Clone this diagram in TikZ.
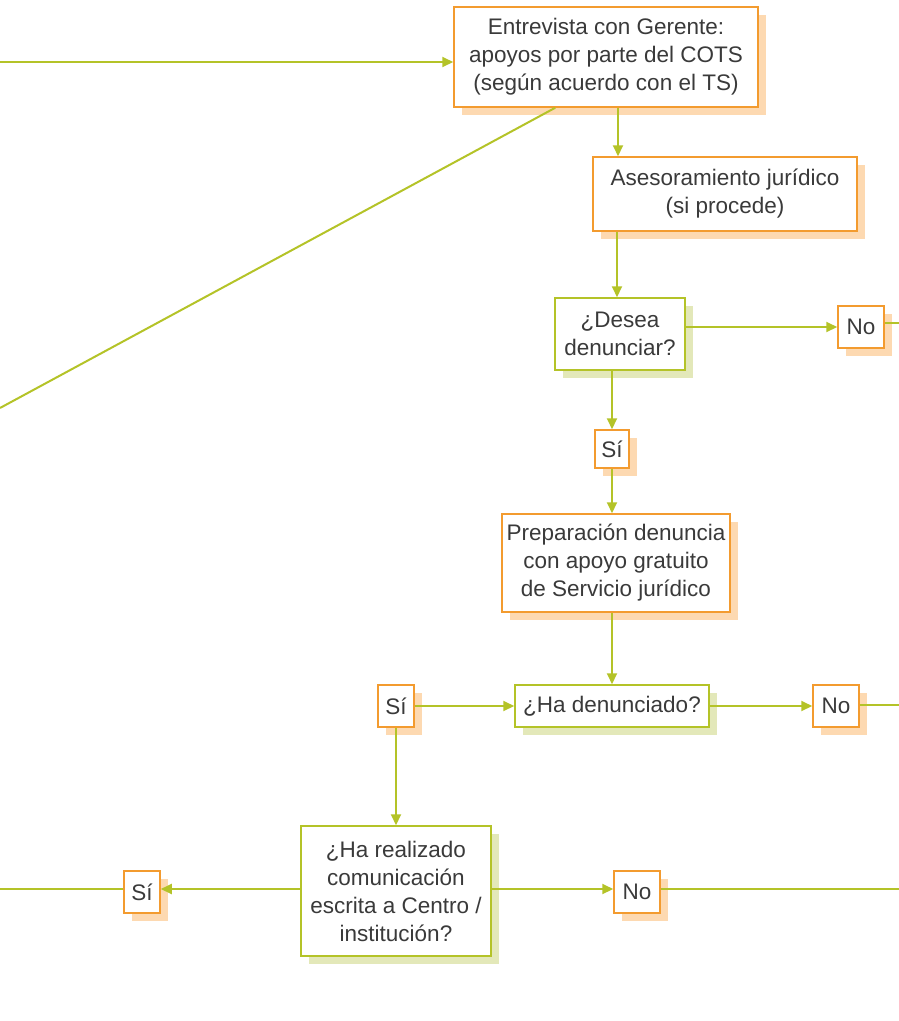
\documentclass[tikz,border=0pt]{standalone}
\usepackage{fontspec}
\setmainfont{Liberation Sans}
\usepackage{tikz}
\usetikzlibrary{positioning, arrows.meta, shadows}

\definecolor{lineagreen}{HTML}{B4C328}
\definecolor{boxorange}{HTML}{F39B2F}
\definecolor{shadeorange}{HTML}{FDD9B1}
\definecolor{shadegreen}{HTML}{E3E8B9}
\definecolor{textgray}{HTML}{3A3A3A}

\tikzset{
    every node/.style={font=\fontsize{22.5}{28}\selectfont, text=textgray, align=center, inner sep=0pt},
    obox/.style={draw=boxorange, fill=white, line width=1.5pt,
        drop shadow={shadow xshift=8pt, shadow yshift=-8pt, fill=shadeorange, opacity=1}},
    gbox/.style={draw=lineagreen, fill=white, line width=1.5pt,
        drop shadow={shadow xshift=8pt, shadow yshift=-8pt, fill=shadegreen, opacity=1}},
    conn/.style={draw=lineagreen, line width=2pt},
    arr/.style={conn, -{Triangle[length=11pt,width=10pt]}}
}

\begin{document}
\begin{tikzpicture}[x=1pt, y=-1pt]
    \useasboundingbox (0,0) rectangle (899,1021);

    % boxes
    \node[obox, minimum width=304pt, minimum height=100pt] (entrev) at (606,57)
        {Entrevista con Gerente:\\apoyos por parte del COTS\\(según acuerdo con el TS)};
    \node[obox, minimum width=264pt, minimum height=74pt] (asesor) at (725,194)
        {Asesoramiento jurídico\\(si procede)};
    \node[gbox, minimum width=130pt, minimum height=72pt] (desea) at (620,334)
        {¿Desea\\denunciar?};
    \node[obox, minimum width=46pt, minimum height=42pt] (noA) at (861,327) {No};
    \node[obox, minimum width=34pt, minimum height=38pt] (siA) at (612,449) {Sí};
    \node[obox, minimum width=228pt, minimum height=98pt] (prepar) at (616,563)
        {Preparación denuncia\\con apoyo gratuito\\de Servicio jurídico};
    \node[obox, minimum width=36pt, minimum height=42pt] (siB) at (396,706) {Sí};
    \node[gbox, minimum width=194pt, minimum height=42pt] (hadenun) at (612,706)
        {¿Ha denunciado?};
    \node[obox, minimum width=46pt, minimum height=42pt] (noB) at (836,706) {No};
    \node[gbox, minimum width=190pt, minimum height=130pt] (harealiz) at (396,891)
        {¿Ha realizado\\comunicación\\escrita a Centro /\\institución?};
    \node[obox, minimum width=36pt, minimum height=42pt] (siC) at (142,892) {Sí};
    \node[obox, minimum width=46pt, minimum height=42pt] (noC) at (637,892) {No};

    % free ends
    \coordinate (inL) at (0,62);
    \coordinate (outD) at (0,408);
    \coordinate (outA) at (899,323);
    \coordinate (outB) at (899,705);
    \coordinate (outC) at (899,889);
    \coordinate (outL) at (0,889);

    % connectors
    \draw[arr] (inL) -- (inL -| entrev.west);
    \draw[conn] (entrev.south west) ++(102,0) -- (outD);
    \draw[arr] ([xshift=12pt]entrev.south) -- ([xshift=12pt]entrev.south |- asesor.north);
    \draw[arr] ([xshift=-3pt]desea.north |- asesor.south) -- ([xshift=-3pt]desea.north);
    \draw[arr] (desea.east |- noA) -- (noA.west);
    \draw[conn] (noA.east |- outA) -- (outA);
    \draw[arr] (desea.south -| siA) -- (siA.north);
    \draw[arr] (siA.south) -- (siA.south |- prepar.north);
    \draw[arr] (prepar.south -| hadenun) -- (hadenun.north);
    \draw[arr] (siB.east) -- (hadenun.west);
    \draw[arr] (hadenun.east) -- (noB.west);
    \draw[conn] (noB.east |- outB) -- (outB);
    \draw[arr] (siB.south) -- (siB.south |- harealiz.north);
    \draw[arr] (harealiz.west |- outL) -- (siC.east |- outL);
    \draw[conn] (siC.west |- outL) -- (outL);
    \draw[arr] (harealiz.east |- outC) -- (noC.west |- outC);
    \draw[conn] (noC.east |- outC) -- (outC);
\end{tikzpicture}
\end{document}
